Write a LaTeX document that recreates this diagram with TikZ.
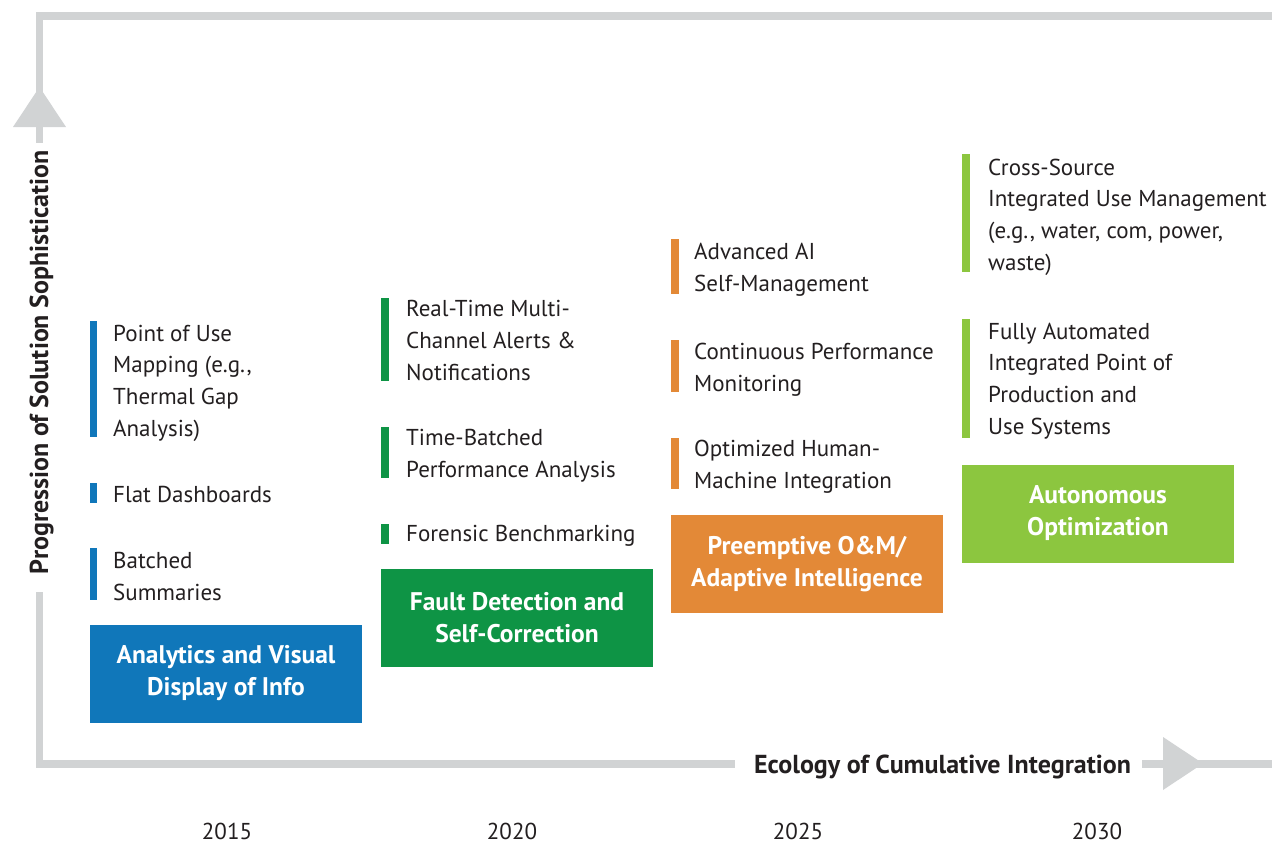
\documentclass[tikz,border=0pt]{standalone}
\usepackage{fontspec}
\setmainfont{PT Sans}
\definecolor{axisgray}{RGB}{209,211,212}
\definecolor{txt}{RGB}{35,31,32}
\definecolor{cblue}{RGB}{16,119,186}
\definecolor{cgreen}{RGB}{14,148,69}
\definecolor{corange}{RGB}{227,137,55}
\definecolor{clime}{RGB}{140,198,63}
\begin{document}
\begin{tikzpicture}[x=1pt,y=-1pt,
  axis/.style={draw=axisgray,line width=7.5pt,line join=miter},
  tip/.style={fill=axisgray,draw=none},
  item/.style={anchor=base west,align=left,inner sep=0pt,text=txt,font=\fontsize{23}{31.6}\selectfont},
  stagebox/.style={minimum width=272pt,minimum height=98pt,inner sep=0pt,text=white,align=center,
    font=\bfseries\fontsize{25.5}{32}\selectfont},
  year/.style={text=txt,font=\fontsize{23}{28}\selectfont,inner sep=0pt},
  axislabel/.style={text=txt,font=\bfseries\fontsize{26}{30}\selectfont,inner sep=0pt}]
\useasboundingbox (0,0) rectangle (1272,844);
% axes
\coordinate (tr) at (1272,16);
\coordinate (tl) at (39.5,16);
\coordinate (yt) at (39.5,143);
\coordinate (yb) at (39.5,592);
\coordinate (bl) at (39.5,764);
\coordinate (xa) at (735,764);
\coordinate (xb) at (1142,764);
\coordinate (br) at (1272,764);
\draw[axis] (tr) -- (tl) -- (yt);
\draw[axis] (yb) -- (bl) -- (xa);
\draw[axis] (xb) -- (br);
\fill[tip] (13,127) -- (39.5,87) -- (66,127) -- cycle;
\fill[tip] (1163,737) -- (1203,763.5) -- (1163,790) -- cycle;
\node[axislabel,rotate=90,anchor=base] (ylab) at (48,362) {Progression of Solution Sophistication};
\node[axislabel,anchor=base] (xlab) at (942.5,773) {Ecology of Cumulative Integration};
% years
\node[year] (y2015) at (227,831) {2015};
\node[year] (y2020) at (512,831) {2020};
\node[year] (y2025) at (798,831) {2025};
\node[year] (y2030) at (1097,831) {2030};
% column 1
\fill[cblue] (90,321) rectangle (97,437);
\node[item] (a1) at (113,436) {Point of Use\\Mapping (e.g.,\\Thermal Gap\\Analysis)};
\fill[cblue] (90,483) rectangle (97,503);
\node[item] (a2) at (113,502) {Flat Dashboards};
\fill[cblue] (90,548) rectangle (97,600);
\node[item] (a3) at (113,600) {Batched\\Summaries};
\node[stagebox,fill=cblue] (b1) at (226,673.5) {Analytics and Visual\\Display of Info};
% column 2
\fill[cgreen] (381,298) rectangle (389,381);
\node[item] (c1) at (406,380) {Real-Time Multi-\\Channel Alerts \&\\Notifications};
\fill[cgreen] (381,427) rectangle (389,478);
\node[item] (c2) at (406,477) {Time-Batched\\Performance Analysis};
\fill[cgreen] (381,524) rectangle (389,544);
\node[item] (c3) at (406,541) {Forensic Benchmarking};
\node[stagebox,fill=cgreen] (b2) at (517,617.5) {Fault Detection and\\Self-Correction};
% column 3
\fill[corange] (671,239) rectangle (679,294);
\node[item] (d1) at (694,291) {Advanced AI\\Self-Management};
\fill[corange] (671,340) rectangle (679,392);
\node[item] (d2) at (694,391) {Continuous Performance\\Monitoring};
\fill[corange] (671,438) rectangle (679,489);
\node[item] (d3) at (694,488) {Optimized Human-\\Machine Integration};
\node[stagebox,fill=corange] (b3) at (807,564) {Preemptive O\&M/\\Adaptive Intelligence};
% column 4
\fill[clime] (962,154) rectangle (970,272);
\node[item] (e1) at (988,270) {Cross-Source\\Integrated Use Management\\(e.g., water, com, power,\\waste)};
\fill[clime] (962,319) rectangle (970,438);
\node[item] (e2) at (988,434) {Fully Automated\\Integrated Point of\\Production and\\Use Systems};
\node[stagebox,fill=clime] (b4) at (1098,513.5) {Autonomous\\Optimization};
\end{tikzpicture}
\end{document}
